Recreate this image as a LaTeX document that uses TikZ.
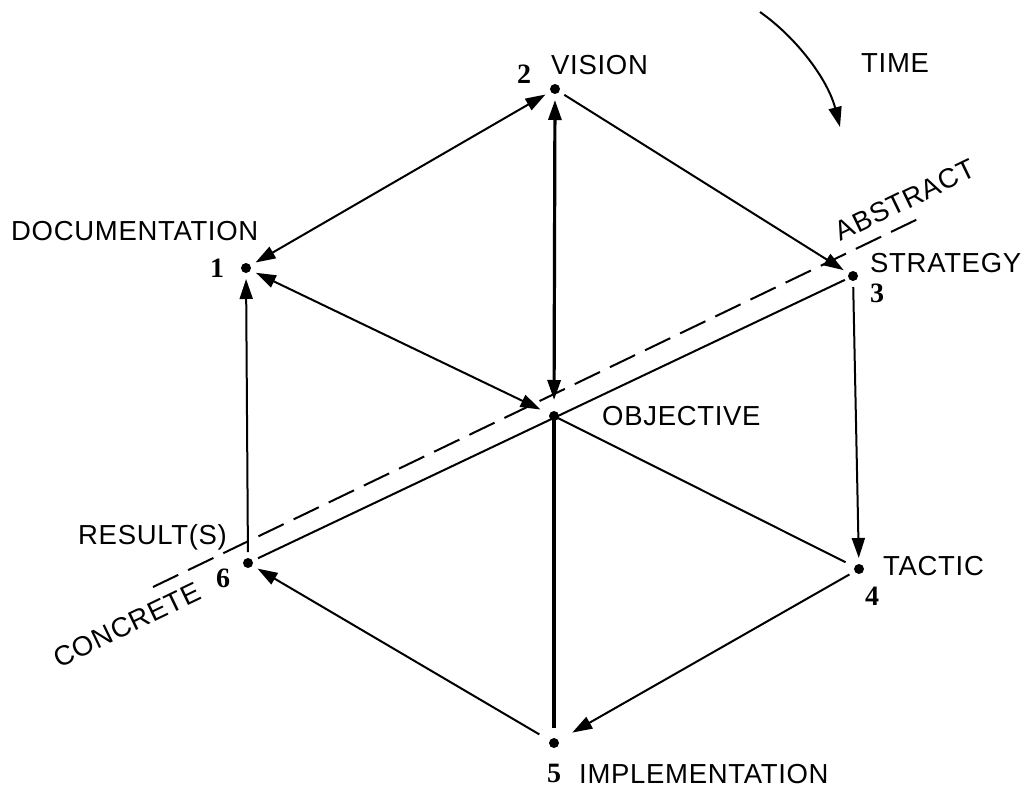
\documentclass[tikz,border=0pt]{standalone}
\usepackage{fontspec}
\setmainfont{Liberation Sans}[LetterSpace=2.5]
\newfontfamily\numfont{Liberation Serif}
\usetikzlibrary{arrows.meta}

\begin{document}
\begin{tikzpicture}[x=1pt,y=-1pt,
  dot/.style={circle,fill=black,inner sep=0pt,minimum size=10pt,outer sep=6pt},
  lbl/.style={inner sep=0pt,anchor=base west,font=\fontsize{27.5}{32}\selectfont},
  slbl/.style={inner sep=0pt,anchor=center,font=\fontsize{27.5}{32}\selectfont,rotate=25.7},
  num/.style={inner sep=0pt,anchor=center,font=\numfont\bfseries\fontsize{28}{32}\selectfont},
  link/.style={line width=2pt},
  heavy/.style={line width=3.2pt},
  tip/.style={-{Triangle[length=20pt,width=13pt]}},
  dbl/.style={{Triangle[length=20pt,width=13pt]}-{Triangle[length=20pt,width=13pt]}},
  divider/.style={line width=2pt,dash pattern=on 28pt off 11pt}
]
\useasboundingbox (0,0) rectangle (1022,787);

% the six corners and the centre of the hexagon
\node[dot] (vis) at (555,89) {};
\node[dot] (doc) at (246,268) {};
\node[dot] (str) at (853,276) {};
\node[dot] (obj) at (554,416) {};
\node[dot] (tac) at (859,569) {};
\node[dot] (res) at (248,563) {};
\node[dot] (imp) at (554,743) {};

% labels
\node[lbl] (tvis) at (551,74) {VISION};
\node[lbl] (tdoc) at (11,240) {DOCUMENTATION};
\node[lbl] (tstr) at (870,272) {STRATEGY};
\node[lbl] (tobj) at (602,425) {OBJECTIVE};
\node[lbl] (ttac) at (883,575) {TACTIC};
\node[lbl] (tres) at (78,544) {RESULT(S)};
\node[lbl] (timp) at (579,783) {IMPLEMENTATION};
\node[lbl] (ttime) at (861,72) {TIME};
\node[slbl] (tabs) at (905,200) {ABSTRACT};
\node[slbl] (tcon) at (127,625) {CONCRETE};

% step numbers
\node[num] (n1) at (217,268) {1};
\node[num] (n2) at (524,74) {2};
\node[num] (n3) at (877,293) {3};
\node[num] (n4) at (872,596) {4};
\node[num] (n5) at (554,773) {5};
\node[num] (n6) at (223,578) {6};

% abstract / concrete divider
\coordinate (dA) at (153,587);
\coordinate (dB) at (920,218);
\draw[divider] (dA) -- (dB);

% connectors
\draw[link,dbl] (vis) -- (doc);
\draw[heavy,dbl,shorten >=5pt] (vis) -- (obj);
\draw[link,dbl,shorten <=4pt] (obj) -- (doc);
\draw[link,tip] (vis) -- (str);
\draw[link,tip] (str) -- (tac);
\draw[link,tip,shorten >=10pt] (tac) -- (imp);
\draw[link,tip,shorten <=6pt] (imp) -- (res);
\draw[link,tip] (res) -- (doc);
\draw[heavy,shorten >=4pt] (obj.center) -- (imp);
\draw[link,shorten >=4pt] (obj.center) -- (tac);
\draw[link,shorten <=-2pt] (str) -- (res);

% time arrow
\coordinate (t0) at (760,12);
\coordinate (t1) at (840,127);
\draw[link,tip] (t0) .. controls (797,38) and (828,80) .. (t1);
\end{tikzpicture}
\end{document}
